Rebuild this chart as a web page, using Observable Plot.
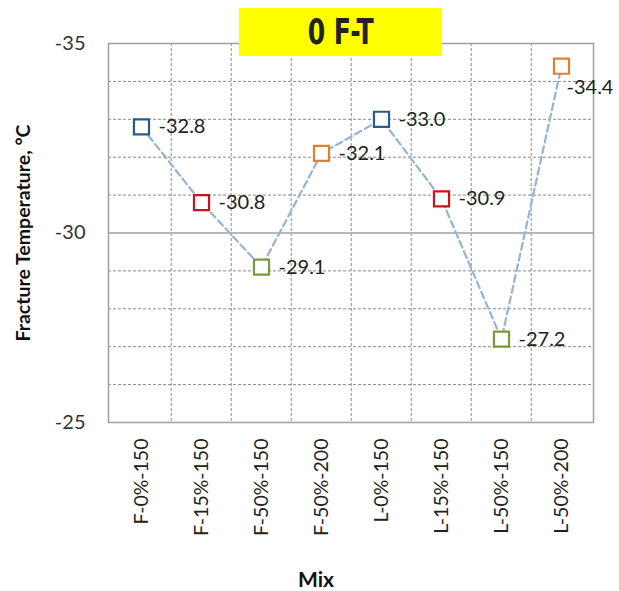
<!DOCTYPE html>
<html>
<head>
<meta charset="utf-8">
<script src="https://cdn.jsdelivr.net/npm/d3@7"></script>
<script src="https://cdn.jsdelivr.net/npm/@observablehq/plot@0.6"></script>
<style>
  html, body { margin: 0; padding: 0; background: #fff; }
  #wrap { position: relative; width: 619px; height: 591px; font-family: Lato, "Open Sans", sans-serif; }
  #title { position: absolute; left: 239px; top: 8px; width: 203px; height: 48px; background: #FFFF00;
           display: flex; align-items: center; justify-content: center;
           font-family: "Liberation Sans Narrow", "DejaVu Sans Condensed", Roboto, sans-serif; font-weight: bold;
           font-size: 31px; color: #222; transform-origin: center; }
  #title span { display: inline-block; transform: scale(0.9, 1.12); }
  #ytitle { position: absolute; left: 22px; top: 233px; transform: translate(-50%, -50%) rotate(-90deg);
            white-space: nowrap; font-weight: bold; font-size: 19.5px; color: #111; }
  #xtitle { position: absolute; left: 316px; top: 578px; transform: translate(-50%, -50%);
            font-weight: bold; font-size: 21px; color: #111; }
</style>
</head>
<body>
<div id="wrap"></div>
<script>
const mixes = ["F-0%-150", "F-15%-150", "F-50%-150", "F-50%-200", "L-0%-150", "L-15%-150", "L-50%-150", "L-50%-200"];
const temps = [-32.8, -30.8, -29.1, -32.1, -33.0, -30.9, -27.2, -34.4];
const markerColors = ["#2B5A87", "#C0161E", "#789A3D", "#E47F2A", "#2B5A87", "#C0161E", "#789A3D", "#E47F2A"];
const yTicks = [-35, -30, -25];
const yMinor = [-34, -33, -32, -31, -29, -28, -27, -26];
const yMajor = [-30];

const data = mixes.map((m, i) => ({mix: m, t: temps[i], color: markerColors[i], label: temps[i].toFixed(1), i}));

const W = 619, H = 591, mL = 108, mR = 26, mT = 43, mB = 169;
const bw = (W - mL - mR) / mixes.length;

const plot = Plot.plot({
  width: W, height: H,
  marginLeft: mL, marginRight: mR, marginTop: mT, marginBottom: mB,
  style: {fontFamily: "Lato, 'Open Sans', sans-serif", background: "#fff"},
  x: {type: "band", domain: mixes, padding: 0},
  y: {domain: [-35, -25], reverse: true},
  marks: [
    Plot.ruleY(yMinor, {stroke: "#8a8a8a", strokeWidth: 1, strokeDasharray: "3,2"}),
    Plot.ruleX(mixes.slice(1), {x: d => d, dx: -bw / 2, stroke: "#8a8a8a", strokeWidth: 1, strokeDasharray: "3,2"}),
    Plot.ruleY(yMajor, {stroke: "#a0a0a0", strokeWidth: 1.5}),
    Plot.frame({stroke: "#a0a0a0", strokeWidth: 1.5}),
    Plot.axisY({ticks: yTicks, tickFormat: d => String(d), tickSize: 0, tickPadding: 23, fontSize: 20, color: "#333", label: null}),
    Plot.axisX({tickSize: 0, tickPadding: 16, tickRotate: -90, fontSize: 19.5, color: "#222", label: null}),
    Plot.line(data, {x: "mix", y: "t", stroke: "#95B3D7", strokeWidth: 2.2, strokeDasharray: "7,4"}),
    Plot.dot(data, {x: "mix", y: "t", symbol: "square", r: 8.5, stroke: d => d.color, fill: "#fff", strokeWidth: 2.2}),
    Plot.text(data.filter(d => d.i !== 7), {x: "mix", y: "t", text: "label", dx: 17, textAnchor: "start", fontSize: 20, fill: "#222"}),
    Plot.text(data.filter(d => d.i === 7), {x: "mix", y: "t", text: "label", dx: 5, dy: 21, textAnchor: "start", fontSize: 20, fill: "#222"})
  ]
});

const wrap = document.getElementById("wrap");
wrap.appendChild(plot);
const t = document.createElement("div"); t.id = "title";
const ts = document.createElement("span"); ts.textContent = "0 F-T"; t.appendChild(ts); wrap.appendChild(t);
const yt = document.createElement("div"); yt.id = "ytitle"; yt.textContent = "Fracture Temperature, °C"; wrap.appendChild(yt);
const xt = document.createElement("div"); xt.id = "xtitle"; xt.textContent = "Mix"; wrap.appendChild(xt);
</script>
</body>
</html>
